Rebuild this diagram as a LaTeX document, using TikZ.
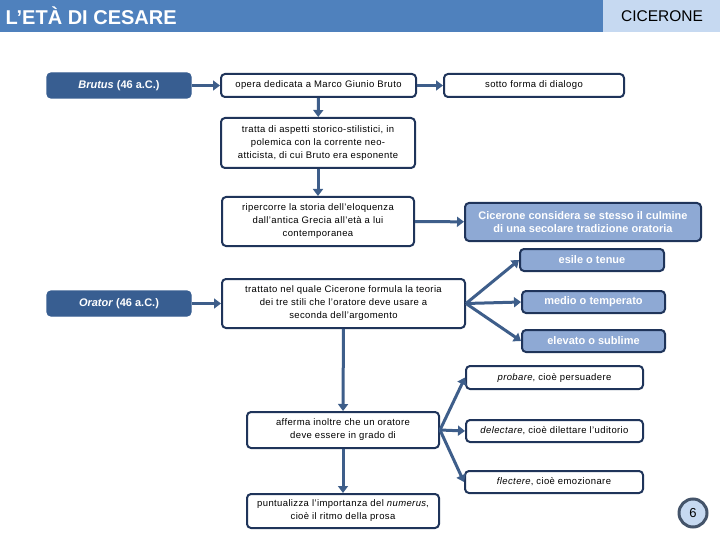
\documentclass[tikz,border=0pt]{standalone}
\usepackage{fontspec}
\setmainfont{Liberation Sans}
\usetikzlibrary{arrows.meta}

\definecolor{barblue}{RGB}{79,129,189}
\definecolor{barlight}{RGB}{198,217,241}
\definecolor{darkfill}{RGB}{56,94,145}
\definecolor{lightfill}{RGB}{142,169,212}
\definecolor{navy}{RGB}{31,52,90}
\definecolor{arrowblue}{RGB}{62,94,138}
\definecolor{ringgray}{RGB}{68,84,106}

\tikzset{
  wbox/.style={draw=navy, line width=2pt, rounded corners=4pt, fill=white,
    inner sep=1pt, align=center, font=\fontsize{9.5}{13}\selectfont\addfontfeatures{LetterSpace=4}},
  dbox/.style={draw=darkfill, line width=1.2pt, rounded corners=4pt, fill=darkfill,
    text=white, inner sep=1pt, align=center, font=\fontsize{11}{13}\selectfont\bfseries},
  lbox/.style={draw=navy, line width=2pt, rounded corners=4pt, fill=lightfill,
    text=white, inner sep=1pt, align=center, font=\fontsize{11}{13}\selectfont\bfseries},
  link/.style={draw=arrowblue, line width=3pt, -{Triangle[width=10pt,length=7pt]}},
}

\begin{document}
\begin{tikzpicture}[x=1pt,y=-1pt]
  \useasboundingbox (0,0) rectangle (720,540);

  % header
  \fill[barblue] (0,0) rectangle (603,32);
  \fill[barlight] (603,0) rectangle (720,32);
  \node[anchor=west, text=white, font=\fontsize{20}{20}\selectfont\bfseries] (title) at (2,15.5) {L’ETÀ DI CESARE};
  \node[font=\fontsize{15.5}{15.5}\selectfont] (topic) at (662,16) {CICERONE};

  % Brutus
  \node[dbox, minimum width=144pt, minimum height=25pt] (brutus) at (119,85.5) {\textit{Brutus} (46 a.C.)};
  \node[wbox, minimum width=195pt, minimum height=23pt] (opera) at (318.5,85.5) {opera dedicata a Marco Giunio Bruto};
  \node[wbox, minimum width=180pt, minimum height=23pt] (sotto) at (534,85.5) {sotto forma di dialogo};
  \node[wbox, minimum width=194pt, minimum height=50pt] (tratta) at (318,143)
    {tratta di aspetti storico-stilistici, in\\ polemica con la corrente neo-\\ atticista, di cui Bruto era esponente};
  \node[wbox, minimum width=192pt, minimum height=49pt] (storia) at (318,221.5)
    {ripercorre la storia dell’eloquenza\\ dall’antica Grecia all’età a lui\\ contemporanea};
  \node[lbox, minimum width=236pt, minimum height=38pt] (culmine) at (583,222)
    {Cicerone considera se stesso il culmine\\ di una secolare tradizione oratoria};

  % Orator
  \node[dbox, minimum width=144pt, minimum height=25pt] (orator) at (119,303.5) {\textit{Orator} (46 a.C.)};
  \node[wbox, minimum width=243pt, minimum height=49pt] (teoria) at (343.5,303.5)
    {trattato nel quale Cicerone formula la teoria\\ dei tre stili che l’oratore deve usare a\\ seconda dell’argomento};
  \node[lbox, minimum width=144pt, minimum height=22pt] (esile) at (592,260) {esile o tenue};
  \node[lbox, minimum width=143pt, minimum height=22pt] (medio) at (593.5,302) {medio o temperato};
  \node[lbox, minimum width=143pt, minimum height=22pt] (elevato) at (593.5,341) {elevato o sublime};

  \node[wbox, minimum width=192pt, minimum height=36pt] (afferma) at (343,430)
    {afferma inoltre che un oratore\\ deve essere in grado di};
  \node[wbox, minimum width=177pt, minimum height=23pt] (probare) at (554.5,377.5) {\textit{probare}, cioè persuadere};
  \node[wbox, minimum width=177pt, minimum height=22pt] (delectare) at (554.5,431) {\textit{delectare}, cioè dilettare l’uditorio};
  \node[wbox, minimum width=178pt, minimum height=22pt] (flectere) at (554,482) {\textit{flectere}, cioè emozionare};
  \node[wbox, minimum width=192pt, minimum height=34pt] (numerus) at (343,511)
    {puntualizza l’importanza del \textit{numerus},\\ cioè il ritmo della prosa};

  % page number
  \node[circle, draw=ringgray, line width=3pt, fill=barlight, minimum size=28pt,
    inner sep=0pt, font=\fontsize{13}{13}\selectfont] (page) at (693,513) {6};

  % connectors
  \draw[link] (brutus) -- (opera);
  \draw[link] (opera) -- (sotto);
  \draw[link] (opera) -- (tratta);
  \draw[link] (tratta) -- (storia);
  \draw[link] (storia) -- (culmine);
  \draw[link] (orator) -- (teoria);
  \draw[link] (teoria.east) -- (esile.west);
  \draw[link] (teoria.east) -- (medio.west);
  \draw[link] (teoria.east) -- (elevato.west);
  \draw[link] (teoria) -- (afferma);
  \draw[link] (afferma.east) -- (probare.west);
  \draw[link] (afferma.east) -- (delectare.west);
  \draw[link] (afferma.east) -- (flectere.west);
  \draw[link] (afferma) -- (numerus);
\end{tikzpicture}
\end{document}
